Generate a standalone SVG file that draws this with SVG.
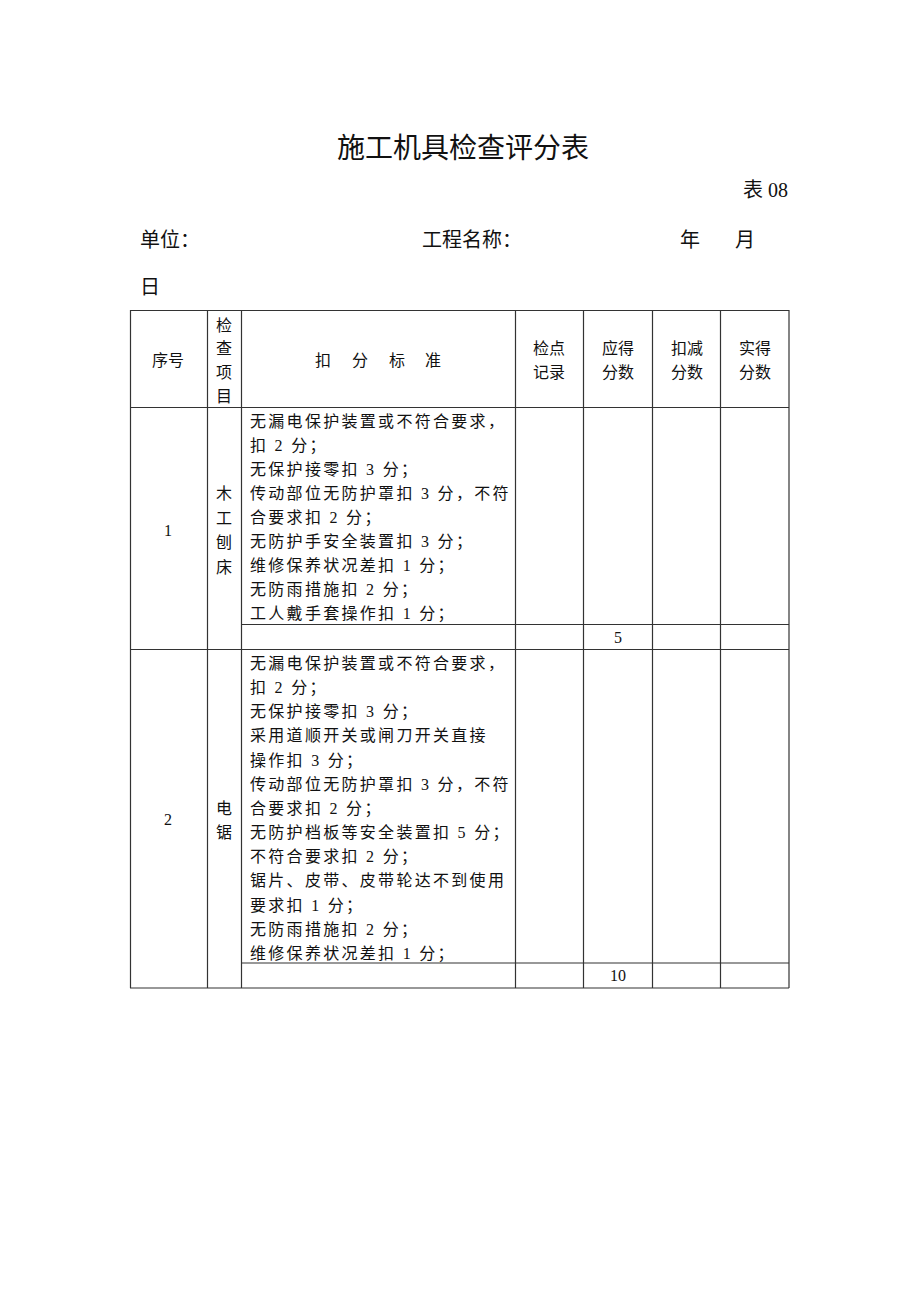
<svg xmlns="http://www.w3.org/2000/svg" width="920" height="1302" viewBox="0 0 920 1302">
<style>
text{font-family:'Liberation Serif','Noto Sans CJK SC',serif;fill:#111;dominant-baseline:central}
.t{font-size:16px}
.c{text-anchor:middle}
.crit{font-size:16px;letter-spacing:2.3px}
.hd{font-size:20px}
line{stroke:#333;stroke-width:1.2}
</style>
<rect width="920" height="1302" fill="#fff"/>
<g id="title">
<text x="463" y="148" class="c" style="font-size:28px">施工机具检查评分表</text>
<text x="788" y="190" style="font-size:20px;text-anchor:end">表 08</text>
<text x="140" y="240" class="hd">单位：</text>
<text x="422" y="240" class="hd">工程名称：</text>
<text x="680" y="240" class="hd">年</text>
<text x="735" y="240" class="hd">月</text>
<text x="140" y="287" class="hd">日</text>
</g>
<g id="grid">
<line x1="130" y1="310.5" x2="789" y2="310.5"/>
<line x1="130" y1="407.5" x2="789" y2="407.5"/>
<line x1="241.5" y1="624.5" x2="789" y2="624.5"/>
<line x1="130" y1="649.5" x2="789" y2="649.5"/>
<line x1="241.5" y1="963" x2="789" y2="963"/>
<line x1="130" y1="988" x2="789" y2="988"/>
<line x1="130.5" y1="310" x2="130.5" y2="988"/>
<line x1="207.5" y1="310" x2="207.5" y2="988"/>
<line x1="241.5" y1="310" x2="241.5" y2="988"/>
<line x1="515.5" y1="310" x2="515.5" y2="988"/>
<line x1="583.5" y1="310" x2="583.5" y2="988"/>
<line x1="652.5" y1="310" x2="652.5" y2="988"/>
<line x1="720.5" y1="310" x2="720.5" y2="988"/>
<line x1="789" y1="310" x2="789" y2="988"/>
</g>
<g id="header">
<text x="168" y="360" class="t c">序号</text>
<text x="224" y="325" class="t c">检</text>
<text x="224" y="348" class="t c">查</text>
<text x="224" y="372" class="t c">项</text>
<text x="224" y="396" class="t c">目</text>
<text x="323" y="360" class="t c">扣</text>
<text x="360" y="360" class="t c">分</text>
<text x="397" y="360" class="t c">标</text>
<text x="433" y="360" class="t c">准</text>
<text x="549" y="348" class="t c">检点</text>
<text x="549" y="372" class="t c">记录</text>
<text x="618" y="348" class="t c">应得</text>
<text x="618" y="372" class="t c">分数</text>
<text x="687" y="348" class="t c">扣减</text>
<text x="687" y="372" class="t c">分数</text>
<text x="755" y="348" class="t c">实得</text>
<text x="755" y="372" class="t c">分数</text>
</g>
<g id="row1">
<text x="168" y="530" class="t c">1</text>
<text x="224" y="493" class="t c">木</text>
<text x="224" y="518" class="t c">工</text>
<text x="224" y="542" class="t c">刨</text>
<text x="224" y="567" class="t c">床</text>
<text x="250" y="421" class="crit">无漏电保护装置或不符合要求，</text>
<text x="250" y="445.1" class="crit">扣 2 分；</text>
<text x="250" y="469.2" class="crit">无保护接零扣 3 分；</text>
<text x="250" y="493.3" class="crit">传动部位无防护罩扣 3 分，不符</text>
<text x="250" y="517.4" class="crit">合要求扣 2 分；</text>
<text x="250" y="541.5" class="crit">无防护手安全装置扣 3 分；</text>
<text x="250" y="565.6" class="crit">维修保养状况差扣 1 分；</text>
<text x="250" y="589.7" class="crit">无防雨措施扣 2 分；</text>
<text x="250" y="613.8" class="crit">工人戴手套操作扣 1 分；</text>
<text x="618" y="637" class="t c">5</text>
</g>
<g id="row2">
<text x="168" y="819" class="t c">2</text>
<text x="224" y="808" class="t c">电</text>
<text x="224" y="832" class="t c">锯</text>
<text x="250" y="663.5" class="crit">无漏电保护装置或不符合要求，</text>
<text x="250" y="687.6" class="crit">扣 2 分；</text>
<text x="250" y="711.8" class="crit">无保护接零扣 3 分；</text>
<text x="250" y="735.9" class="crit">采用道顺开关或闸刀开关直接</text>
<text x="250" y="760.1" class="crit">操作扣 3 分；</text>
<text x="250" y="784.2" class="crit">传动部位无防护罩扣 3 分，不符</text>
<text x="250" y="808.4" class="crit">合要求扣 2 分；</text>
<text x="250" y="832.5" class="crit">无防护档板等安全装置扣 5 分；</text>
<text x="250" y="856.7" class="crit">不符合要求扣 2 分；</text>
<text x="250" y="880.8" class="crit">锯片、皮带、皮带轮达不到使用</text>
<text x="250" y="905" class="crit">要求扣 1 分；</text>
<text x="250" y="929.1" class="crit">无防雨措施扣 2 分；</text>
<text x="250" y="953.3" class="crit">维修保养状况差扣 1 分；</text>
<text x="618" y="975" class="t c">10</text>
</g>
</svg>
